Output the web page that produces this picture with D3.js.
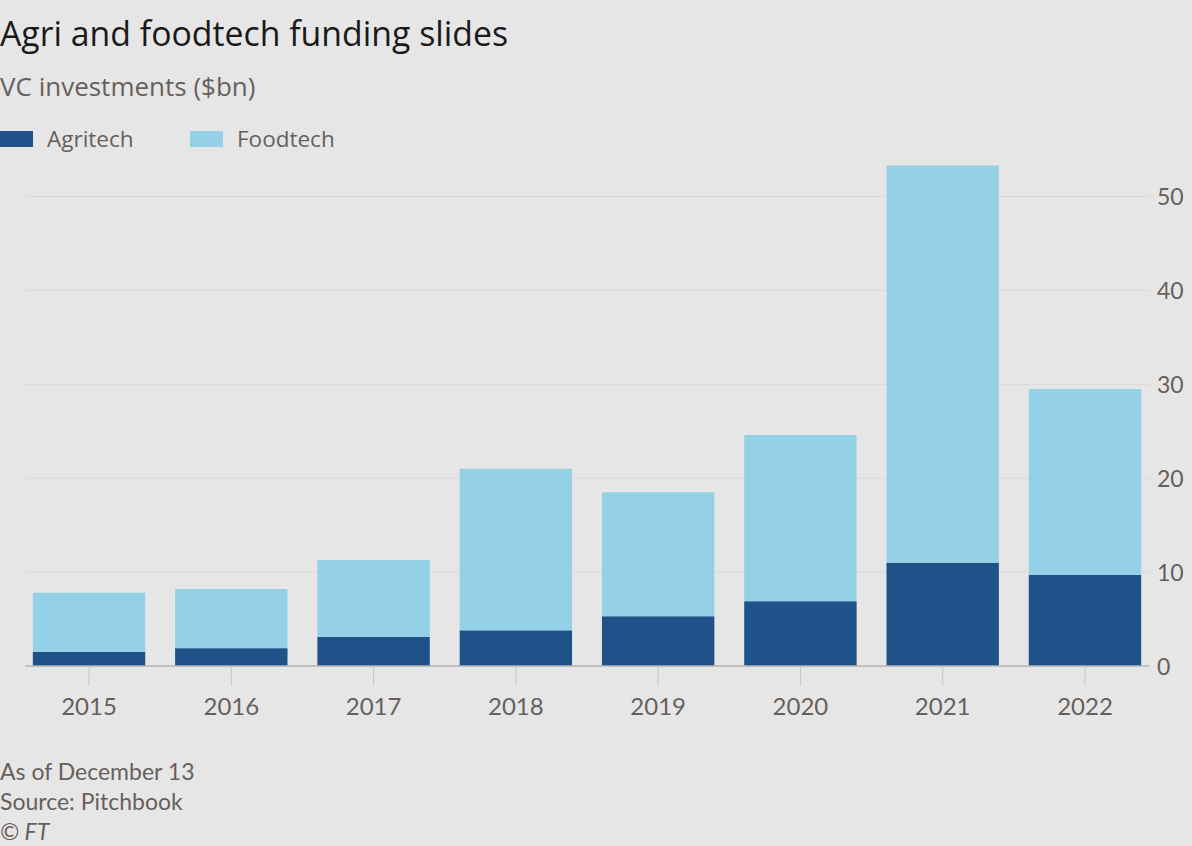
<!DOCTYPE html>
<html>
<head>
<meta charset="utf-8">
<script src="https://cdn.jsdelivr.net/npm/d3@7"></script>
<style>
  html, body { margin: 0; padding: 0; background: #e6e6e6; }
  svg { display: block; font-family: "Lato", "Open Sans", sans-serif; }
  .axis path { display: none; }
  .axis text { fill: #66605c; }
  .axis-x text { font-size: 24px; }
  .axis-y text { font-size: 23px; }
</style>
</head>
<body>
<div id="chart"></div>
<script>
const years = ['2015', '2016', '2017', '2018', '2019', '2020', '2021', '2022'];
const agritech = [1.5, 1.9, 3.1, 3.8, 5.3, 6.9, 11.0, 9.7];
const foodtech = [6.3, 6.3, 8.2, 17.2, 13.2, 17.7, 42.3, 19.8];
const yTicks = [0, 10, 20, 30, 40, 50];
const seriesNames = ['Agritech', 'Foodtech'];
const colours = ['#1f5289', '#95d1e6'];

const W = 1192, H = 846;
const svg = d3.select('#chart').append('svg')
  .attr('width', W)
  .attr('height', H);

// titles
svg.append('text')
  .attr('x', 0).attr('y', 46)
  .style('font-family', '"Open Sans", sans-serif')
  .style('font-size', '33.8px')
  .style('fill', '#1a1a1a')
  .text('Agri and foodtech funding slides');

svg.append('text')
  .attr('x', 0).attr('y', 96)
  .style('font-family', '"Open Sans", sans-serif')
  .style('font-size', '26px')
  .style('fill', '#66605c')
  .text('VC investments ($bn)');

// legend
const legend = svg.append('g').attr('class', 'legend');
const legendX = [0, 190];
seriesNames.forEach((name, i) => {
  legend.append('rect')
    .attr('x', legendX[i]).attr('y', 131)
    .attr('width', 33).attr('height', 16)
    .attr('fill', colours[i]);
  legend.append('text')
    .attr('x', legendX[i] + 47).attr('y', 147)
    .style('font-family', '"Open Sans", sans-serif')
    .style('font-size', '22.5px')
    .style('fill', '#66605c')
    .text(name);
});

// scales
const left = 25, right = 1149, bottom = 666;
const scaleX = d3.scaleBand().domain(years).range([left, right])
  .paddingInner(0.21).paddingOuter(0.055);
const scaleY = d3.scaleLinear().domain([0, 50]).range([bottom, 196.5]);

const plot = svg.append('g').attr('class', 'plot');

// gridlines
plot.selectAll('.grid')
  .data(yTicks.filter(d => d > 0))
  .enter().append('line')
  .attr('class', 'grid')
  .attr('x1', left).attr('x2', right)
  .attr('y1', d => scaleY(d)).attr('y2', d => scaleY(d))
  .attr('stroke', '#d9d9d9')
  .attr('stroke-width', 1);

// stacked bars
const table = years.map((y, i) => ({ year: y, Agritech: agritech[i], Foodtech: foodtech[i] }));
const stacked = d3.stack().keys(seriesNames)(table);

plot.selectAll('.series')
  .data(stacked)
  .enter().append('g')
  .attr('class', 'series')
  .attr('fill', (d, i) => colours[i])
  .selectAll('rect')
  .data(d => d)
  .enter().append('rect')
  .attr('x', d => scaleX(d.data.year))
  .attr('width', scaleX.bandwidth())
  .attr('y', d => scaleY(d[1]))
  .attr('height', d => scaleY(d[0]) - scaleY(d[1]));

// baseline
plot.append('line')
  .attr('x1', left).attr('x2', right)
  .attr('y1', bottom).attr('y2', bottom)
  .attr('stroke', '#b3b3b3')
  .attr('stroke-width', 1.5);

// x axis
const axisX = d3.axisBottom(scaleX).tickSize(20).tickPadding(12);
plot.append('g')
  .attr('class', 'axis axis-x')
  .attr('transform', `translate(0,${bottom})`)
  .call(axisX)
  .attr('font-family', 'Lato, sans-serif')
  .call(g => g.selectAll('.tick line').attr('stroke', '#c6c6c6'));

// y axis
const axisY = d3.axisRight(scaleY).tickValues(yTicks).tickSize(0).tickPadding(8);
plot.append('g')
  .attr('class', 'axis axis-y')
  .attr('transform', `translate(${right},0)`)
  .call(axisY)
  .attr('font-family', 'Lato, sans-serif')
  .call(g => g.selectAll('.tick text').attr('dy', '0.35em'));

// footer
const notes = ['As of December 13', 'Source: Pitchbook'];
notes.forEach((t, i) => {
  svg.append('text')
    .attr('x', 0).attr('y', 780 + i * 30)
    .style('font-size', '23px')
    .style('fill', '#66605c')
    .text(t);
});
svg.append('text')
  .attr('x', 0).attr('y', 840)
  .style('font-size', '23px')
  .style('font-style', 'italic')
  .style('fill', '#66605c')
  .text('© FT');
</script>
</body>
</html>
